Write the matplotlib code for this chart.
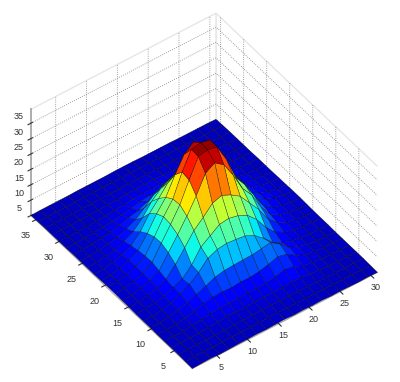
import matplotlib
matplotlib.use("Agg")
import numpy as np
import matplotlib.pyplot as plt
from matplotlib.colors import Normalize

plt.rcParams['font.family'] = ['Liberation Sans', 'DejaVu Sans']

x_ticks = [5, 10, 15, 20, 25, 30]
y_ticks = [5, 10, 15, 20, 25, 30, 35]
z_ticks = [5, 10, 15, 20, 25, 30, 35]

# heights, one row per y node, 21 columns per x node
surface_z = [
    [5.0,5.1,5.2,5.0,5.1,5.2,5.2,5.3,5.2,5.3,5.4,5.2,5.3,5.2,5.3,5.1,5.2,5.1,5.0,5.1,5.0],
    [5.1,5.2,5.2,5.2,5.2,5.3,5.3,5.3,5.3,5.4,5.4,5.3,5.3,5.3,5.4,5.3,5.2,5.2,5.2,5.1,5.1],
    [5.2,5.3,5.3,5.3,5.3,5.4,5.4,5.5,5.5,5.6,5.6,5.5,5.5,5.4,5.5,5.4,5.3,5.3,5.2,5.3,5.2],
    [5.2,5.3,5.3,5.4,5.6,5.8,6.0,5.9,5.9,6.0,6.1,6.0,6.1,6.3,6.2,5.8,5.5,5.3,5.2,5.2,5.2],
    [5.2,5.3,5.3,5.7,6.0,6.4,6.6,6.7,6.6,6.8,6.7,7.0,7.4,8.2,7.6,6.3,5.8,5.4,5.3,5.3,5.2],
    [5.2,5.3,5.4,5.9,6.6,7.5,7.9,8.2,8.0,8.3,8.2,8.6,9.3,10.2,9.4,7.5,6.2,5.7,5.3,5.3,5.2],
    [5.3,5.3,5.7,6.3,7.1,8.2,9.5,10.8,11.4,11.6,11.7,11.8,12.2,12.6,10.6,8.0,6.7,5.9,5.4,5.3,5.2],
    [5.3,5.4,5.8,6.5,7.8,9.4,11.7,14.8,16.1,16.5,16.2,15.8,14.4,11.9,9.0,7.4,6.4,5.8,5.5,5.4,5.3],
    [5.3,5.6,5.9,6.4,7.8,9.0,12.0,16.3,18.4,20.5,20.9,20.2,18.8,15.9,11.8,8.6,7.0,6.2,5.7,5.5,5.3],
    [5.4,5.6,6.1,7.0,8.3,11.6,15.5,19.5,22.2,25.2,26.2,24.8,22.8,19.1,15.4,10.8,7.9,6.5,5.9,5.5,5.3],
    [5.4,5.7,6.3,7.3,8.9,13.2,17.5,22.0,27.0,32.8,34.6,32.4,27.5,21.6,17.9,12.4,8.5,6.8,6.0,5.6,5.4],
    [5.5,5.8,6.4,7.5,9.5,14.2,18.7,23.5,30.0,36.0,36.6,36.0,30.5,23.1,19.1,14.1,9.2,7.0,6.1,5.7,5.5],
    [5.5,5.8,6.4,7.5,9.4,14.0,19.0,23.2,30.4,36.2,36.8,36.2,29.8,23.5,18.8,14.3,9.4,7.6,6.4,5.8,5.5],
    [5.4,5.7,6.3,7.3,9.0,13.0,17.8,21.6,27.4,32.5,34.9,32.9,27.0,22.0,17.6,13.2,8.9,7.3,6.3,5.7,5.4],
    [5.3,5.6,6.1,7.0,8.4,11.4,15.8,19.1,22.7,24.8,26.3,25.2,22.3,19.5,15.6,11.6,8.3,7.0,6.1,5.6,5.4],
    [5.3,5.5,5.9,6.4,7.7,9.3,12.2,16.0,18.7,20.2,21.1,20.5,18.5,16.2,12.0,9.0,7.7,6.4,5.9,5.6,5.3],
    [5.3,5.4,5.7,6.1,6.8,8.0,9.4,11.8,14.5,16.0,16.5,16.1,14.7,11.9,9.5,7.9,6.8,6.1,5.7,5.4,5.3],
    [5.3,5.3,5.5,5.8,6.2,7.0,7.8,8.6,9.8,11.0,11.6,10.9,9.9,8.7,7.7,7.0,6.2,5.8,5.5,5.3,5.3],
    [5.2,5.3,5.3,5.6,5.8,6.2,6.6,7.2,7.8,8.1,8.2,8.1,7.7,7.2,6.6,6.2,5.8,5.6,5.3,5.3,5.2],
    [5.2,5.2,5.3,5.3,5.5,5.7,6.0,6.3,6.5,6.7,6.8,6.6,6.5,6.3,6.0,5.7,5.5,5.3,5.3,5.2,5.2],
    [5.2,5.2,5.2,5.3,5.3,5.4,5.6,5.7,5.9,6.0,6.1,6.1,5.9,5.7,5.6,5.4,5.3,5.3,5.2,5.2,5.2],
    [5.2,5.2,5.2,5.2,5.3,5.3,5.4,5.4,5.5,5.6,5.6,5.5,5.5,5.4,5.4,5.3,5.3,5.2,5.2,5.2,5.2],
    [5.1,5.2,5.2,5.2,5.3,5.3,5.3,5.4,5.4,5.4,5.4,5.4,5.4,5.4,5.3,5.3,5.3,5.2,5.2,5.2,5.1],
    [5.0,5.1,5.1,5.1,5.1,5.2,5.2,5.2,5.2,5.3,5.3,5.3,5.2,5.2,5.2,5.2,5.1,5.1,5.1,5.1,5.0],
]

Z = np.array(surface_z)
x = np.linspace(1, 31, Z.shape[1])
y = np.linspace(1, 36, Z.shape[0])
X, Y = np.meshgrid(x, y)

fig = plt.figure(figsize=(4.0, 3.82), dpi=100)
ax = fig.add_axes([-1 / 400, -5 / 382, 1, 1], projection='3d', proj_type='ortho')
ax.view_init(elev=44.6, azim=-126.5)
ax.set_box_aspect((230, 271, 149), zoom=0.98)

ax.plot_surface(X, Y, Z, rstride=1, cstride=1, cmap='jet', norm=Normalize(3.4, 37),
                edgecolor=(0, 0, 0, 0.75), linewidth=0.3, antialiased=True, shade=False)

ax.set_xlim(1, 31, view_margin=0)
ax.set_ylim(1, 36, view_margin=0)
ax.set_zlim(5, 39.5, view_margin=0)
ax.set_xticks(x_ticks)
ax.set_yticks(y_ticks)
ax.set_zticks(z_ticks)
ax.tick_params(axis='x', labelsize=6.5, pad=-4, colors='#333333')
ax.tick_params(axis='y', labelsize=6.5, pad=0, colors='#333333')
ax.tick_params(axis='z', labelsize=6.5, pad=-3, colors='#333333')

for axis in (ax.xaxis, ax.yaxis, ax.zaxis):
    axis.set_pane_color((1, 1, 1, 1))
    axis.pane.set_edgecolor('0.9')
    axis.line.set_color('0.65')
    axis._axinfo['grid'].update(color='0.5', linestyle=':', linewidth=0.6)
ax.zaxis.line.set_linewidth(1.3)

for tick in ax.zaxis.get_major_ticks():
    tick.label1.set_verticalalignment('bottom')

fig.savefig('out.png', dpi=100)
